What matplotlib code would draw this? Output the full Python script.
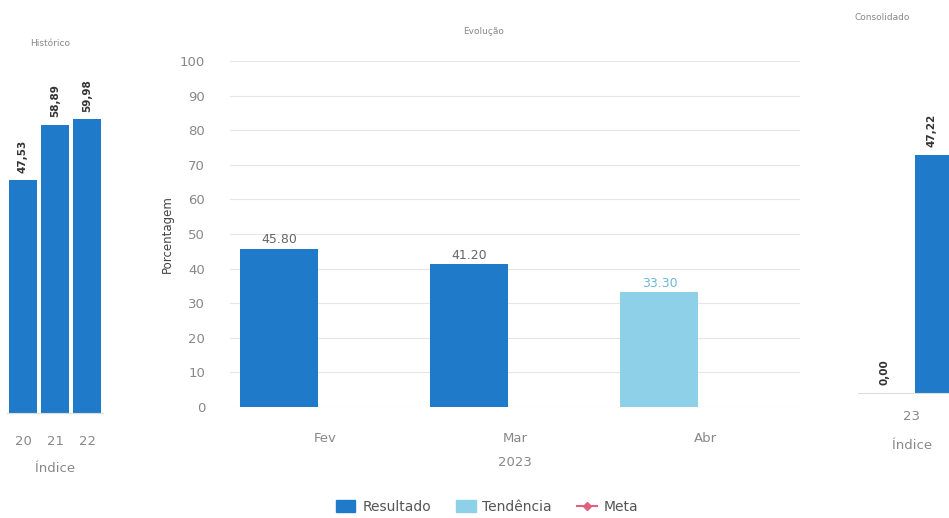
import matplotlib
matplotlib.use("Agg")
import matplotlib.pyplot as plt
from matplotlib.patches import Patch
from matplotlib.lines import Line2D
import numpy as np

# ---- data ----
hist_cats = ["20", "21", "22"]
hist_vals = [47.53, 58.89, 59.98]
hist_labels = ["47,53", "58,89", "59,98"]

evo_cats = ["Fev", "Mar", "Abr"]
evo_resultado = [45.80, 41.20, None]
evo_tendencia = [None, None, 33.30]

cons_cats = ["23"]
cons_left = [0.00]
cons_right = [47.22]

BLUE = "#1F7BC9"
LIGHT = "#8ED0E8"
PINK = "#E0607E"
GRAY = "#888888"
DARK = "#444444"

W, H = 949, 518
fig = plt.figure(figsize=(W / 100, H / 100), dpi=100)
fig.patch.set_facecolor("white")


def ax_at(x0, x1, ytop, ybot):
    return fig.add_axes([x0 / W, 1 - ybot / H, (x1 - x0) / W, (ybot - ytop) / H])


def clean(ax):
    for s in ["top", "right", "left"]:
        ax.spines[s].set_visible(False)
    ax.spines["bottom"].set_color("#dddddd")
    ax.tick_params(length=0, colors=GRAY)


# ---- Histórico ----
ax1 = ax_at(7, 103, 46, 413)
x1 = np.arange(len(hist_cats))
ax1.bar(x1, hist_vals, width=0.88, color=BLUE)
for xi, v, lab in zip(x1, hist_vals, hist_labels):
    ax1.text(xi, v + 1.5, lab, rotation=90, ha="center", va="bottom",
             fontsize=7.5, fontweight="bold", color="#333333")
ax1.set_xlim(-0.5, 2.5)
ax1.set_ylim(0, 75)
ax1.set_xticks(x1)
ax1.set_xticklabels(hist_cats, fontsize=9.5)
ax1.tick_params(axis="x", pad=16)
ax1.set_yticks([])
ax1.set_xlabel("Índice", fontsize=9.5, color=GRAY, labelpad=10)
clean(ax1)
fig.text(50 / W, 1 - 44 / H, "Histórico", fontsize=6.5, color=GRAY, ha="center", va="center")

# ---- Evolução ----
ax2 = ax_at(230, 800, 61, 407)
x2 = np.arange(len(evo_cats))
off = -0.24
bw = 0.41
for xi, v in zip(x2, evo_resultado):
    if v is not None:
        ax2.bar(xi + off, v, width=bw, color=BLUE, zorder=3)
        ax2.text(xi + off, v + 0.6, f"{v:.2f}", ha="center", va="bottom",
                 fontsize=9, color="#666666", zorder=4)
for xi, v in zip(x2, evo_tendencia):
    if v is not None:
        ax2.bar(xi + off, v, width=bw, color=LIGHT, zorder=3)
        ax2.text(xi + off, v + 0.6, f"{v:.2f}", ha="center", va="bottom",
                 fontsize=9, color="#6CB8D6", zorder=4)
ax2.set_xlim(-0.5, 2.5)
ax2.set_ylim(0, 100)
ax2.set_yticks(np.arange(0, 101, 10))
ax2.tick_params(axis="y", labelsize=9.5, pad=18)
ax2.set_xticks(x2)
ax2.set_xticklabels(evo_cats, fontsize=9.5)
ax2.tick_params(axis="x", pad=18)
ax2.grid(axis="y", color="#e6e6e6", linewidth=0.8, zorder=0)
ax2.set_ylabel("Porcentagem", fontsize=8.5, color=DARK, labelpad=4)
ax2.set_xlabel("2023", fontsize=9.5, color=GRAY, labelpad=8)
clean(ax2)
ax2.spines["bottom"].set_visible(False)
fig.text(484 / W, 1 - 32 / H, "Evolução", fontsize=6.5, color=GRAY, ha="center", va="center")

# ---- Consolidado ----
ax3 = ax_at(858, 966, 15, 393)
x3 = np.arange(len(cons_cats))
ax3.bar(x3 - 0.25, cons_left, width=0.45, color=BLUE)
ax3.bar(x3 + 0.25, cons_right, width=0.45, color=BLUE)
for xi, v in zip(x3, cons_left):
    ax3.text(xi - 0.25, v + 1.5, f"{v:.2f}".replace(".", ","), rotation=90, ha="center",
             va="bottom", fontsize=7.5, fontweight="bold", color="#333333")
for xi, v in zip(x3, cons_right):
    ax3.text(xi + 0.18, v + 1.5, f"{v:.2f}".replace(".", ","), rotation=90, ha="center",
             va="bottom", fontsize=7.5, fontweight="bold", color="#333333")
ax3.set_xlim(-0.5, 0.5)
ax3.set_ylim(0, 75)
ax3.set_xticks(x3)
ax3.set_xticklabels(cons_cats, fontsize=9.5)
ax3.tick_params(axis="x", pad=12)
ax3.set_yticks([])
ax3.set_xlabel("Índice", fontsize=9.5, color=GRAY, labelpad=12)
clean(ax3)
fig.text(882 / W, 1 - 17 / H, "Consolidado", fontsize=6.5, color=GRAY, ha="center", va="center")

# ---- legend ----
handles = [
    Patch(facecolor=BLUE, edgecolor=BLUE, label="Resultado"),
    Patch(facecolor=LIGHT, edgecolor=LIGHT, label="Tendência"),
    Line2D([0], [0], color=PINK, marker="D", markersize=4, linewidth=1.5, label="Meta"),
]
leg = fig.legend(handles=handles, loc="center", bbox_to_anchor=(487 / W, 1 - 507 / H),
                 ncol=3, frameon=False, fontsize=10, handlelength=1.4, handleheight=1.0,
                 columnspacing=1.8, handletextpad=0.5)
for t in leg.get_texts():
    t.set_color("#555555")

fig.savefig("out.png", dpi=100, facecolor="white")
